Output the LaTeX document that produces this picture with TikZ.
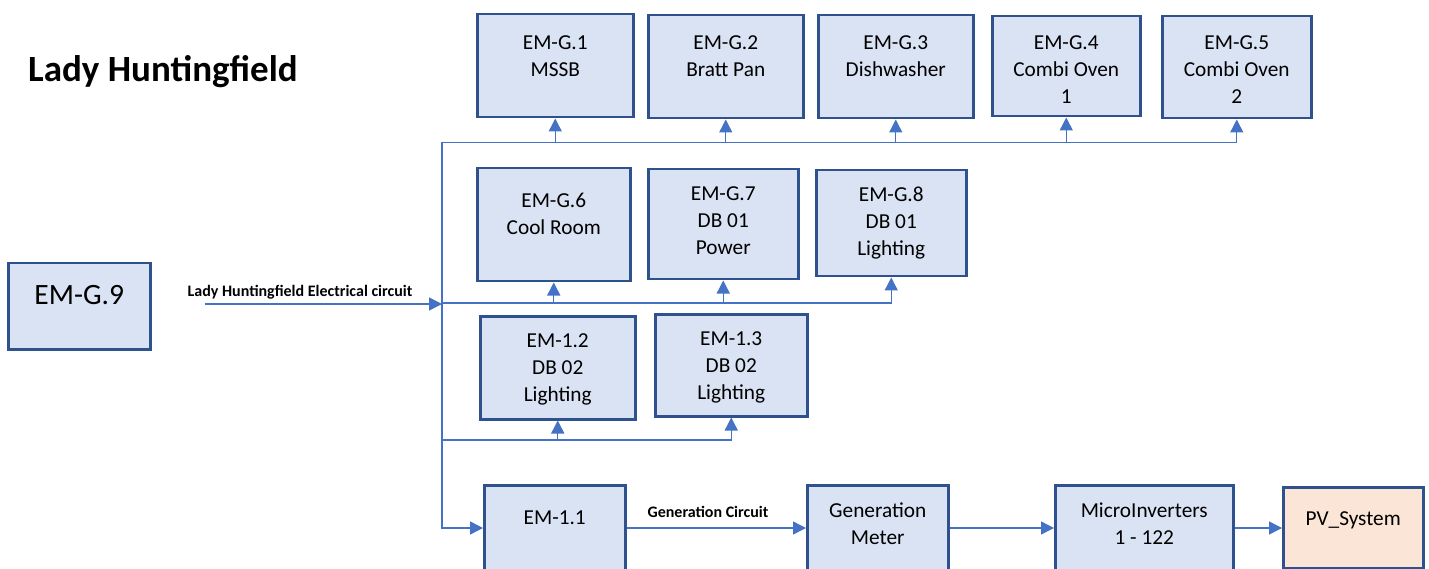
\documentclass[tikz,border=0pt]{standalone}
\usepackage{fontspec}
\setmainfont{Carlito}
\usetikzlibrary{arrows.meta}
\definecolor{boxc}{HTML}{2F528F}
\definecolor{fillc}{HTML}{DAE3F3}
\definecolor{pvfill}{HTML}{FBE5D6}
\definecolor{linec}{HTML}{4472C4}
\tikzset{
  box/.style={draw=boxc, fill=fillc, line width=2.5pt, inner sep=0pt, anchor=north west,
    font=\fontsize{21.3}{27}\selectfont},
  conn/.style={draw=linec, line width=1.4pt},
  arr/.style={-{Triangle[length=13pt,width=13pt]}},
  lbl/.style={font=\bfseries\fontsize{16}{19}\selectfont, anchor=base, inner sep=0pt}
}
\newcommand{\tl}[1]{\begin{tabular}[t]{@{}c@{}}#1\end{tabular}}
\begin{document}
\begin{tikzpicture}[x=1pt,y=-1pt]
\clip (0,0) rectangle (1429,569);
\fill[white] (0,0) rectangle (1429,569);
% title
\node[anchor=base west, inner sep=0pt, font=\bfseries\fontsize{37}{44}\selectfont] (title) at (28,82) {Lady Huntingfield};
% top row
\node[box, minimum width=156pt, text height=35pt, text depth=68pt] (g1) at (476,13) {\tl{EM-G.1\\MSSB}};
\node[box, minimum width=155pt, text height=34pt, text depth=69pt] (g2) at (647,14) {\tl{EM-G.2\\Bratt Pan}};
\node[box, minimum width=155pt, text height=34pt, text depth=69pt] (g3) at (817,14) {\tl{EM-G.3\\Dishwasher}};
\node[box, minimum width=148pt, text height=33pt, text depth=67pt] (g4) at (991,15) {\tl{EM-G.4\\Combi Oven\\1}};
\node[box, minimum width=149pt, text height=33pt, text depth=69pt] (g5) at (1161,15) {\tl{EM-G.5\\Combi Oven\\2}};
% second row
\node[box, minimum width=153pt, text height=39pt, text depth=74pt] (g6) at (476,167) {\tl{EM-G.6\\Cool Room}};
\node[box, minimum width=150pt, text height=31pt, text depth=79pt] (g7) at (647,168) {\tl{EM-G.7\\DB 01\\Power}};
\node[box, minimum width=150pt, text height=31pt, text depth=75pt] (g8) at (815,169) {\tl{EM-G.8\\DB 01\\Lighting}};
% third row
\node[box, minimum width=155pt, text height=31pt, text depth=72pt] (e12) at (479,315) {\tl{EM-1.2\\DB 02\\Lighting}};
\node[box, minimum width=152pt, text height=31pt, text depth=71pt] (e13) at (654,313) {\tl{EM-1.3\\DB 02\\Lighting}};
% left box
\node[box, minimum width=142pt, text height=41pt, text depth=45pt, font=\fontsize{29.5}{36}\selectfont] (g9) at (7,262) {EM-G.9};
% bottom row
\node[box, minimum width=141pt, text height=39pt, text depth=80pt] (e11) at (483,484) {\tl{EM-1.1}};
\node[box, minimum width=141pt, text height=32pt, text depth=87pt] (gm) at (806,484) {\tl{Generation\\Meter}};
\node[box, minimum width=178pt, text height=32pt, text depth=87pt] (mi) at (1054,484) {\tl{MicroInverters\\1 - 122}};
\node[box, fill=pvfill, minimum width=140pt, text height=38pt, text depth=43pt] (pv) at (1282,486) {\tl{PV\_System}};
% bus coordinates
\coordinate (in) at (205,304);
\coordinate (j1) at (442,304);
\coordinate (t0) at (442,142.5);
\coordinate (m0) at (442,303);
\coordinate (l0) at (442,440);
\coordinate (b0) at (442,528);
% labels
\node[lbl] (lblin) at (300,297) {Lady Huntingfield Electrical circuit};
\node[lbl] (lblgen) at (708,517) {Generation Circuit};
% input
\draw[conn,arr] (in) -- (j1);
% main vertical bus
\draw[conn,arr] (t0) -- (b0) -- (b0 -| e11.west);
% top bus
\draw[conn,arr] (t0) -| (g5.south);
\draw[conn,arr] (t0 -| g1.south) -- (g1.south);
\draw[conn,arr] (t0 -| g2.south) -- (g2.south);
\draw[conn,arr] (t0 -| g3.south) -- (g3.south);
\draw[conn,arr] (t0 -| g4.south) -- (g4.south);
% middle bus
\draw[conn,arr] (m0) -| (g8.south);
\draw[conn,arr] (m0 -| g6.south) -- (g6.south);
\draw[conn,arr] (m0 -| g7.south) -- (g7.south);
% lower bus
\draw[conn,arr] (l0) -| (e13.south);
\draw[conn,arr] (l0 -| e12.south) -- (e12.south);
% generation chain
\draw[conn,arr] (e11.east |- b0) -- (gm.west |- b0);
\draw[conn,arr] (gm.east |- b0) -- (mi.west |- b0);
\draw[conn,arr] (mi.east |- b0) -- (pv.west |- b0);
\end{tikzpicture}
\end{document}
